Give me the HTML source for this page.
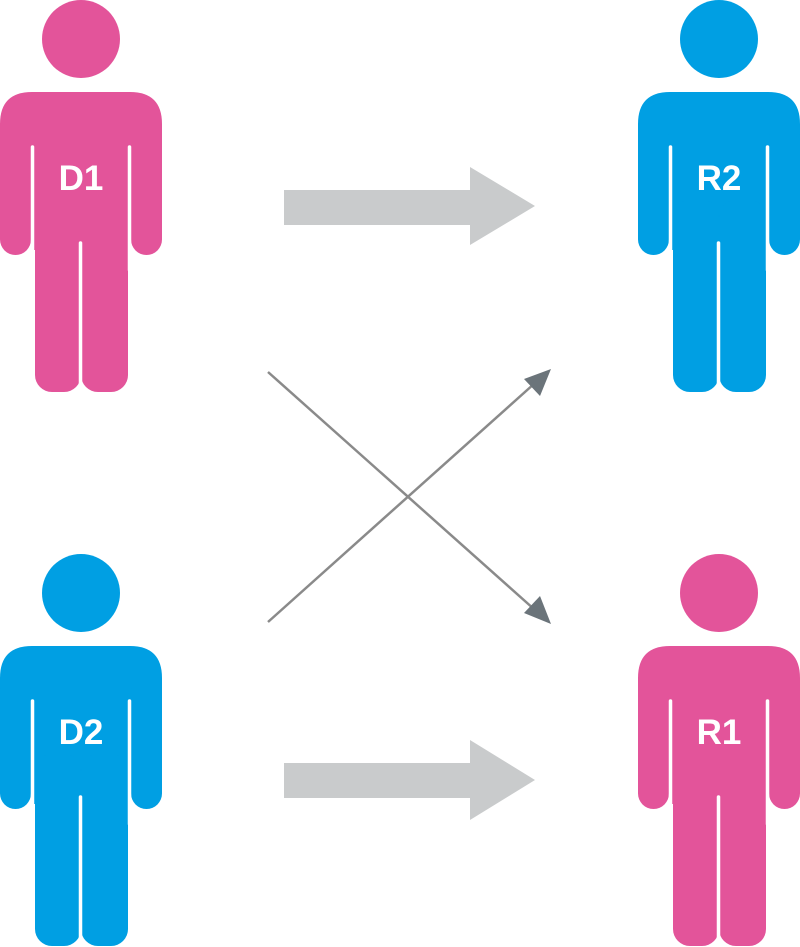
<!DOCTYPE html>
<html><head><style>html,body{margin:0;padding:0;background:#fff}svg{display:block}</style></head>
<body>
<svg width="800" height="947" viewBox="0 0 800 947" xmlns="http://www.w3.org/2000/svg">
<defs>
<g id="p">
  <circle cx="81" cy="39" r="39"/>
  <path d="M0,124 Q0,92 32,92 H130 Q162,92 162,124 V150 H0 Z"/>
  <rect x="0" y="120" width="31" height="135" rx="15.5"/>
  <rect x="131" y="120" width="31" height="135" rx="15.5"/>
  <rect x="34" y="130" width="94" height="120"/>
  <rect x="35" y="200" width="46" height="192" rx="17"/>
  <rect x="81" y="200" width="47" height="192" rx="17"/>
</g>
<g id="s" stroke="#fff" stroke-width="3.5" stroke-linecap="round" fill="none">
  <line x1="32.5" y1="147" x2="32.5" y2="270"/>
  <line x1="129.5" y1="147" x2="129.5" y2="270"/>
  <line x1="80.5" y1="243" x2="80.5" y2="400"/>
</g>
</defs>
<g fill="#e3549a"><use href="#p"/></g><use href="#s"/>
<g fill="#009fe3" transform="translate(638,0)"><use href="#p"/></g><use href="#s" transform="translate(638,0)"/>
<g fill="#009fe3" transform="translate(0,554)"><use href="#p"/></g><use href="#s" transform="translate(0,554)"/>
<g fill="#e3549a" transform="translate(638,554)"><use href="#p"/></g><use href="#s" transform="translate(638,554)"/>
<g font-family="Liberation Sans, sans-serif" font-weight="bold" font-size="35" fill="#fff" text-anchor="middle">
<text x="81" y="190">D1</text>
<text x="719" y="190">R2</text>
<text x="81" y="744">D2</text>
<text x="719" y="744">R1</text>
</g>
<g fill="#c9cbcc">
<path d="M284,190 H470 V167 L535,206 L470,245 V225 H284 Z"/>
<path d="M284,763 H470 V740 L535,780 L470,820 V798 H284 Z"/>
</g>
<g stroke="#8a8a8a" stroke-width="2.5">
<line x1="268" y1="372" x2="535" y2="610"/>
<line x1="268" y1="622" x2="535" y2="383"/>
</g>
<g fill="#6b747a">
<path d="M551,624 L524,613 L540,596 Z"/>
<path d="M551,369 L540,396 L524,379 Z"/>
</g>
</svg>
</body></html>
